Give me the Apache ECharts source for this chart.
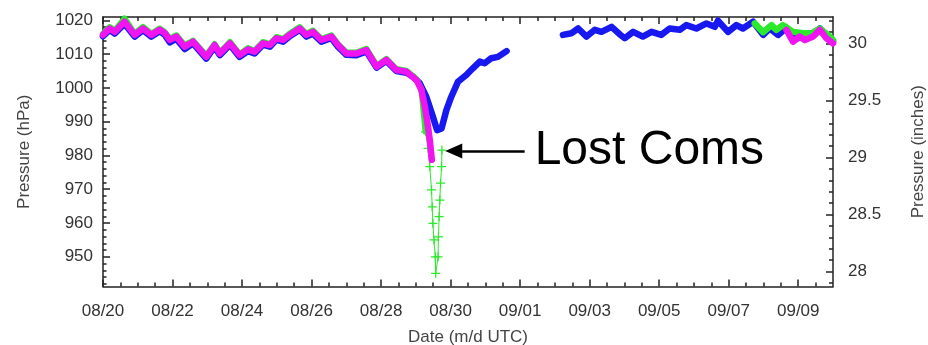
<!DOCTYPE html>
<html><head><meta charset="utf-8">
<script src="https://cdn.jsdelivr.net/npm/echarts@6/dist/echarts.min.js"></script>
<style>html,body{margin:0;padding:0;background:#fff}#c{width:928px;height:345px}</style>
</head><body><div id="c"></div>
<script>
// x values are days since 2005-08-20 00:00 UTC
const xTickDays   = [0, 2, 4, 6, 8, 10, 12, 14, 16, 18, 20];
const xTickLabels = ['08/20','08/22','08/24','08/26','08/28','08/30','09/01','09/03','09/05','09/07','09/09'];
const hPaTicks    = [950, 960, 970, 980, 990, 1000, 1010, 1020];
const inchTicks   = [28, 28.5, 29, 29.5, 30];
const inchTickLabels = ['28', '28.5', '29', '29.5', '30'];

// Blue series (first segment and second segment after the gap)
const blueDaysA = [0, 0.19, 0.34, 0.62, 0.91, 1.15, 1.39, 1.63, 1.78, 1.92, 2.11, 2.35, 2.59, 2.97, 3.21, 3.36, 3.65, 3.93, 4.17, 4.36, 4.60, 4.80, 4.99, 5.18, 5.37, 5.66, 5.85, 6.04, 6.28, 6.57, 6.76, 7.00, 7.29, 7.58, 7.87, 8.15, 8.44, 8.73, 8.92, 9.11, 9.30, 9.49, 9.61, 9.74, 9.88, 10.02, 10.21, 10.45, 10.64, 10.84, 10.98, 11.17, 11.36, 11.61];
const blueValsA = [1015.3, 1017.2, 1016.1, 1019.0, 1015.2, 1017.1, 1015.2, 1016.8, 1015.7, 1013.5, 1014.6, 1011.5, 1013.2, 1008.7, 1012.2, 1009.7, 1012.8, 1009.2, 1010.9, 1010.2, 1012.8, 1012.2, 1014.3, 1013.7, 1015.3, 1017.2, 1015.2, 1016.1, 1013.7, 1014.8, 1012.2, 1009.8, 1009.7, 1010.8, 1006.0, 1008.0, 1005.0, 1004.5, 1003.3, 1001.4, 997.4, 991.5, 987.5, 988.0, 993.5, 997.4, 1001.8, 1003.8, 1005.8, 1007.8, 1007.3, 1008.8, 1009.2, 1010.9];
const blueDaysB = [13.23, 13.48, 13.67, 13.91, 14.15, 14.34, 14.63, 14.86, 15.01, 15.25, 15.53, 15.78, 16.06, 16.30, 16.59, 16.78, 17.07, 17.36, 17.60, 17.69, 17.98, 18.22, 18.41, 18.70, 18.99, 19.18, 19.42, 19.66, 19.90, 20.19, 20.42, 20.62, 20.85, 21.0];
const blueValsB = [1015.7, 1016.2, 1017.6, 1015.2, 1017.2, 1016.6, 1018.1, 1015.9, 1014.7, 1016.6, 1015.2, 1016.6, 1015.7, 1017.6, 1017.2, 1018.6, 1017.6, 1019.1, 1018.1, 1019.9, 1016.6, 1018.6, 1017.6, 1019.6, 1015.7, 1017.6, 1015.7, 1017.8, 1014.5, 1015.2, 1015.5, 1017.6, 1015.0, 1013.8];

// Green series
const greenDaysA = [0, 0.19, 0.34, 0.62, 0.91, 1.15, 1.39, 1.63, 1.78, 1.92, 2.11, 2.35, 2.59, 2.97, 3.21, 3.36, 3.65, 3.93, 4.17, 4.36, 4.60, 4.80, 4.99, 5.18, 5.37, 5.66, 5.85, 6.04, 6.28, 6.57, 6.76, 7.00, 7.29, 7.58, 7.87, 8.15, 8.44, 8.73, 9.02, 9.16, 9.28];
const greenValsA = [1016.0, 1018.0, 1017.0, 1020.6, 1016.1, 1018.1, 1016.0, 1017.6, 1016.5, 1014.6, 1015.6, 1012.6, 1014.0, 1009.6, 1013.0, 1010.5, 1013.6, 1010.0, 1011.8, 1011.0, 1013.6, 1013.0, 1015.1, 1014.5, 1016.1, 1018.0, 1016.0, 1017.0, 1014.5, 1015.6, 1013.0, 1010.5, 1010.5, 1011.6, 1006.6, 1008.6, 1005.6, 1005.1, 1002.6, 999.5, 987.0];
const greenDaysDive = [9.28, 9.35, 9.40, 9.45, 9.47, 9.49, 9.52, 9.56, 9.57, 9.64, 9.65, 9.67, 9.69, 9.71, 9.74, 9.75];
const greenValsDive = [987.0, 982.1, 976.7, 969.8, 964.8, 959.9, 955.0, 950.0, 945.1, 950.0, 955.9, 961.9, 966.8, 971.8, 976.7, 981.6];
const greenDaysB = [18.75, 18.99, 19.23, 19.37, 19.56, 19.85, 20.14, 20.39, 20.62, 20.91, 21.0];
const greenValsB = [1019.1, 1016.5, 1018.6, 1017.2, 1018.6, 1016.6, 1016.2, 1016.2, 1017.6, 1015.2, 1014.2];

// Magenta series
const magentaDaysA = [0, 0.19, 0.34, 0.62, 0.91, 1.15, 1.39, 1.63, 1.78, 1.92, 2.11, 2.35, 2.59, 2.97, 3.21, 3.36, 3.65, 3.93, 4.17, 4.36, 4.60, 4.80, 4.99, 5.18, 5.37, 5.66, 5.85, 6.04, 6.28, 6.57, 6.76, 7.00, 7.29, 7.58, 7.87, 8.15, 8.44, 8.73, 9.02, 9.16, 9.26, 9.35, 9.40, 9.45, 9.46];
const magentaValsA = [1015.7, 1017.6, 1016.6, 1019.6, 1015.7, 1017.6, 1015.7, 1017.2, 1016.2, 1014.2, 1015.2, 1012.2, 1013.7, 1009.2, 1012.7, 1010.2, 1013.2, 1009.7, 1011.4, 1010.7, 1013.2, 1012.7, 1014.7, 1014.2, 1015.7, 1017.6, 1015.7, 1016.6, 1014.2, 1015.2, 1012.7, 1010.2, 1010.2, 1011.2, 1006.3, 1008.3, 1005.3, 1004.8, 1002.3, 999.4, 994.4, 988.5, 984.6, 979.6, 978.7];
const magentaDaysB = [19.66, 19.85, 20.04, 20.19, 20.43, 20.62, 20.81, 21.0];
const magentaValsB = [1017.2, 1013.7, 1015.2, 1014.2, 1015.2, 1017.2, 1014.7, 1013.2];

// Annotation
const annotationText = 'Lost Coms';
const arrowY = 981.3;      // hPa
const arrowFromDay = 10.09;
const arrowToDay = 12.13;

const FONT = '"Liberation Sans", Arial, Helvetica, sans-serif';
const AX = {color: '#222', width: 1.5};
const LABEL = {fontSize: 17, color: '#333', fontFamily: FONT};

function pts(d, v) { return d.map((x, i) => [x, v[i]]); }
function range(a, b, s, skip) { const r = []; for (let i = 0; a + i * s <= b + 1e-9; i++) { const v = +(a + i * s).toFixed(3); if (!skip(v)) r.push(v); } return r; }

const xMinor = range(0.5, 20.5, 0.5, v => Math.abs(v / 2 - Math.round(v / 2)) < 1e-6);
const hPaMinor = range(942, 1020, 2, v => v % 10 === 0);
const inchMinor = range(27.9, 30.2, 0.1, v => Math.abs(v * 2 - Math.round(v * 2)) < 1e-6);

const X_MIN = 0, X_MAX = 21, H_MIN = 941.2, H_MAX = 1021.0, I_MIN = 27.869, I_MAX = 30.233;

function xAxis(pos, ticks, len, main) {
  return {
    type: 'value', position: pos, min: X_MIN, max: X_MAX,
    axisLine: {show: main, onZero: false, lineStyle: AX},
    axisTick: {show: true, inside: true, length: len, customValues: ticks, lineStyle: AX},
    axisLabel: main && pos === 'bottom' ? Object.assign({show: true, customValues: xTickDays, margin: 16,
      formatter: v => { const i = xTickDays.findIndex(t => Math.abs(t - v) < 1e-6); return i >= 0 ? xTickLabels[i] : ''; }}, LABEL) : {show: false},
    splitLine: {show: false},
    name: main && pos === 'bottom' ? 'Date (m/d UTC)' : '',
    nameLocation: 'middle', nameGap: 42,
    nameTextStyle: {fontSize: 17, color: '#444', fontFamily: FONT}
  };
}
function yAxis(pos, min, max, ticks, len, main, labelVals, labelTexts, name, margin, gap) {
  return {
    type: 'value', position: pos, min: min, max: max,
    axisLine: {show: main, onZero: false, lineStyle: AX},
    axisTick: {show: true, inside: true, length: len, customValues: ticks, lineStyle: AX},
    axisLabel: main ? Object.assign({show: true, customValues: labelVals, margin: margin,
      formatter: v => { const i = labelVals.findIndex(t => Math.abs(t - v) < 1e-6); return i >= 0 ? labelTexts[i] : ''; }}, LABEL) : {show: false},
    splitLine: {show: false},
    name: main ? name : '', nameLocation: 'middle', nameGap: gap, nameRotate: 90,
    nameTextStyle: {fontSize: 17, color: '#444', fontFamily: FONT}
  };
}

const PLUS = 'path://M-0.14,-1H0.14V-0.14H1V0.14H0.14V1H-0.14V0.14H-1V-0.14H-0.14Z';
function band(data, color, z, w) {
  return {type: 'line', xAxisIndex: 0, yAxisIndex: 0, data: data, showSymbol: false, silent: true,
    lineStyle: {color: color, width: w || 6.5, join: 'round', cap: 'round'}, itemStyle: {color: color}, z: z};
}

const chart = echarts.init(document.getElementById('c'), null, {renderer: 'canvas'});
chart.setOption({
  animation: false,
  backgroundColor: '#fff',
  grid: {left: 103, right: 95, top: 17, bottom: 58.5, containLabel: false, outerBoundsMode: 'none'},
  xAxis: [
    xAxis('bottom', xTickDays, 7, true),
    xAxis('bottom', xMinor, 4, false),
    xAxis('top', xTickDays, 7, true),
    xAxis('top', xMinor, 4, false)
  ],
  yAxis: [
    yAxis('left', H_MIN, H_MAX, hPaTicks, 7, true, hPaTicks, hPaTicks.map(String), 'Pressure (hPa)', 10, 70),
    yAxis('left', H_MIN, H_MAX, hPaMinor, 3.5, false),
    yAxis('right', I_MIN, I_MAX, inchTicks, 7, true, inchTicks, inchTickLabels, 'Pressure (inches)', 15, 77),
    yAxis('right', I_MIN, I_MAX, inchMinor, 4, false)
  ],
  series: [
    band(pts(blueDaysA, blueValsA), '#1818f0', 2),
    band(pts(blueDaysB, blueValsB), '#1818f0', 2),
    band(pts(greenDaysA, greenValsA), '#2bea2b', 3, 6),
    band(pts(greenDaysB, greenValsB), '#2bea2b', 3),
    {
      type: 'line', xAxisIndex: 0, yAxisIndex: 0, data: pts(greenDaysDive, greenValsDive), z: 3,
      showSymbol: true, symbol: PLUS, symbolSize: 9, silent: true,
      lineStyle: {color: '#2bea2b', width: 1}, itemStyle: {color: '#2bea2b'},
      markLine: {
        silent: true, animation: false, symbol: ['triangle', 'none'], symbolSize: [15, 17],
        lineStyle: {color: '#000', width: 2.5, type: 'solid'},
        label: {show: true, position: 'end', formatter: annotationText, fontSize: 48, color: '#000', fontFamily: FONT, distance: 10, padding: [0, 0, 10, 0]},
        data: [[{coord: [arrowFromDay, arrowY]}, {coord: [arrowToDay, arrowY]}]]
      }
    },
    band(pts(magentaDaysA, magentaValsA), '#f014f0', 4),
    band(pts(magentaDaysB, magentaValsB), '#f014f0', 4)
  ]
});
</script></body></html>
